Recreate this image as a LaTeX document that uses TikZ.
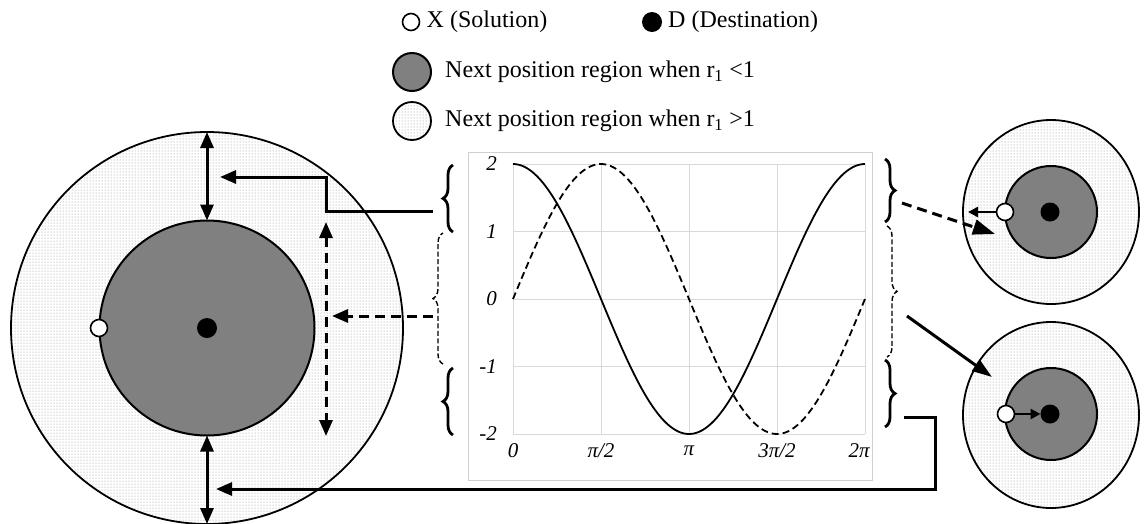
\documentclass[tikz,border=0pt]{standalone}
\usepackage{fontspec}
\setmainfont{Liberation Serif}
\usetikzlibrary{arrows.meta, positioning, decorations.pathreplacing, shapes.geometric, patterns}
\definecolor{mCore}{HTML}{808080}
\definecolor{mGrid}{HTML}{D9D9D9}
\definecolor{mFrame}{HTML}{D0D0D0}
\tikzset{
  outreg/.style={draw, line width=1.8pt, inner sep=0pt, outer sep=0pt,
                 preaction={fill=white}, pattern=dots, pattern color=black!45},
  corereg/.style={draw, circle, line width=2pt, inner sep=0pt, outer sep=0pt,
                  fill=mCore},
  solnode/.style={draw, circle, line width=1.6pt, inner sep=0pt, outer sep=0pt,
                  fill=white},
  destnode/.style={circle, inner sep=0pt, outer sep=0pt, fill=black},
  legtext/.style={inner sep=0pt, font=\fontsize{24}{28}\selectfont},
  ticklab/.style={inner sep=0pt, font=\fontsize{21}{24}\selectfont\itshape},
  gridline/.style={mGrid, line width=1pt},
  bline/.style={line width=3pt},
  dline/.style={line width=3pt, dash pattern=on 10pt off 6pt},
  sline/.style={line width=2.5pt},
  bracebig/.style={decorate, decoration={brace, amplitude=10pt}, line width=2.8pt},
  bracemid/.style={decorate, decoration={brace, amplitude=10pt}, line width=1.4pt,
                   dash pattern=on 5pt off 2.5pt},
  bigtip/.style={-{Triangle[length=16pt, width=13pt]}},
}

\begin{document}
\begin{tikzpicture}[x=1pt, y=-1pt]
  \useasboundingbox (0,0) rectangle (1145,523);

  % legend
  \node[solnode, minimum size=17pt] (lx) at (411,22) {};
  \node[legtext, right=7pt of lx] {X (Solution)};
  \node[destnode, minimum size=20pt] (ld) at (652,22) {};
  \node[legtext, right=6pt of ld] {D (Destination)};
  \node[corereg, minimum size=38pt] (lcore) at (412,72) {};
  \node[legtext, right=14pt of lcore] {Next position region when r\textsubscript{1} <1};
  \node[outreg, circle, minimum size=38pt] (lring) at (412,121) {};
  \node[legtext, right=14pt of lring] {Next position region when r\textsubscript{1} >1};

  % left regions
  \node[outreg, circle, minimum size=392pt] (bigout) at (207,328) {};
  \node[corereg, minimum size=215pt] (bigin) at (207,328) {};
  \node[solnode, minimum size=17pt] (X0) at (99,328) {};
  \node[destnode, minimum size=20pt] (D0) at (207,328) {};

  % right regions
  \node[outreg, ellipse, minimum width=176pt, minimum height=184pt] (topout) at (1051,212) {};
  \node[corereg, minimum size=92pt] (topin) at (1051,212) {};
  \node[solnode, minimum size=17pt] (X1) at (1005,212) {};
  \node[destnode, minimum size=19pt] (D1) at (1050,212) {};
  \node[outreg, ellipse, minimum width=176pt, minimum height=186pt] (botout) at (1051,415) {};
  \node[corereg, minimum size=92pt] (botin) at (1051,414) {};
  \node[solnode, minimum size=17pt] (X2) at (1006,414) {};
  \node[destnode, minimum size=19pt] (D2) at (1050,414) {};

  % chart
  \node[draw=mFrame, line width=1pt, minimum width=404pt, minimum height=328pt,
        inner sep=0pt] (chart) at (670,316) {};
  \foreach \v in {-2,...,2} {
    \draw[gridline] (513,{299-67.5*\v}) -- (865,{299-67.5*\v});
    \node[ticklab, anchor=east] at (497,{299-67.5*\v}) {\v};
  }
  \foreach \i in {0,...,4}
    \draw[gridline] ({513+88*\i},164) -- ({513+88*\i},434);
  \foreach \t/\px in {0/513, {π/2}/601, π/689, {3π/2}/777, {2π}/859}
    \node[ticklab] at (\px,451) {\t};
  \draw[line width=1.8pt] plot[domain=0:6.2832, samples=120, smooth]
    ({513+56.02*\x}, {299-135*cos(\x r)});
  \draw[line width=1.8pt, dash pattern=on 7pt off 4pt] plot[domain=0:6.2832, samples=120, smooth]
    ({513+56.02*\x}, {299-135*sin(\x r)});

  % braces
  \draw[bracebig] (453,232) -- (453,165);
  \draw[bracemid] (443,364) -- (443,233);
  \draw[bracebig] (453,435) -- (453,368);
  \draw[bracebig] (885,159) -- (885,222);
  \draw[bracemid] (887,226) -- (887,357);
  \draw[bracebig] (885,360) -- (885,427);

  % connector ends
  \coordinate (lbtop) at (433,211);
  \coordinate (elb1) at (326,177);
  \coordinate (tgtA) at (220,177);
  \coordinate (lbmid) at (433,316);
  \coordinate (tgtB) at (332,316);
  \coordinate (dtop) at (326,222);
  \coordinate (dbot) at (326,436);
  \coordinate (rbtop) at (902,203);
  \coordinate (tgtD) at (995,234);
  \coordinate (rbmid) at (907,316);
  \coordinate (tgtE) at (992,377);
  \coordinate (rbbot) at (904,417);
  \coordinate (elb2) at (935,417);
  \coordinate (tgtC) at (216,489);
  \coordinate (sgt1) at (968,212);

  % connectors
  \draw[bline, {Triangle[length=16pt, width=13pt]}-{Triangle[length=16pt, width=13pt]}]
    (bigout.north) -- (bigin.north);
  \draw[bline, {Triangle[length=16pt, width=13pt]}-{Triangle[length=16pt, width=13pt]}]
    (bigin.south) -- (bigout.south);
  \draw[dline, {Triangle[length=16pt, width=13pt]}-{Triangle[length=16pt, width=13pt]}]
    (dtop) -- (dbot);
  \draw[bline, bigtip] (lbtop) -| (elb1) -- (tgtA);
  \draw[dline, bigtip] (lbmid) -- (tgtB);
  \draw[bline, bigtip] (rbbot) -- (elb2) |- (tgtC);
  \draw[dline, -{Triangle[length=22pt, width=15pt]}] (rbtop) -- (tgtD);
  \draw[bline, -{Triangle[length=20pt, width=13pt]}] (rbmid) -- (tgtE);
  \draw[sline, -{Triangle[length=10pt, width=10pt]}] (X1) -- (sgt1);
  \draw[sline, -{Triangle[length=10pt, width=10pt]}] (X2) -- (D2);
\end{tikzpicture}
\end{document}
